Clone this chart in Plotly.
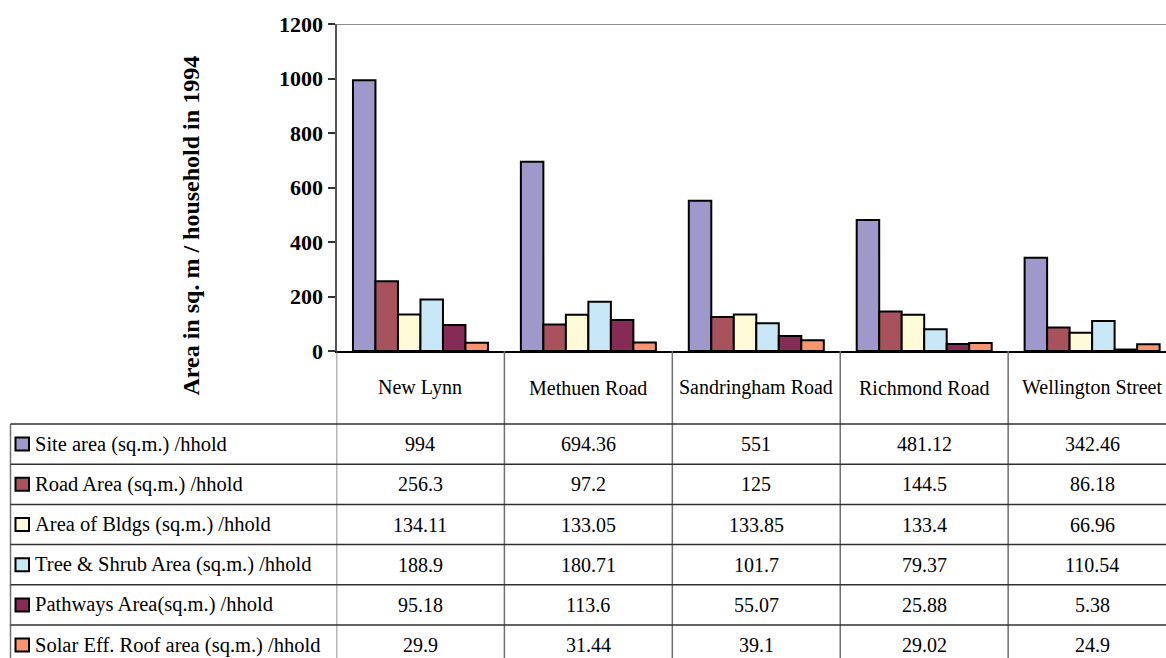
import plotly.graph_objects as go

# ---- data -------------------------------------------------------------
categories = ["New Lynn", "Methuen Road", "Sandringham Road", "Richmond Road", "Wellington Street"]

series_names = [
    "Site area (sq.m.) /hhold",
    "Road Area (sq.m.) /hhold",
    "Area of Bldgs (sq.m.) /hhold",
    "Tree & Shrub Area (sq.m.) /hhold",
    "Pathways Area(sq.m.) /hhold",
    "Solar Eff. Roof area (sq.m.) /hhold",
]

site_area = [994, 694.36, 551, 481.12, 342.46]
road_area = [256.3, 97.2, 125, 144.5, 86.18]
bldg_area = [134.11, 133.05, 133.85, 133.4, 66.96]
tree_shrub_area = [188.9, 180.71, 101.7, 79.37, 110.54]
pathways_area = [95.18, 113.6, 55.07, 25.88, 5.38]
solar_roof_area = [29.9, 31.44, 39.1, 29.02, 24.9]

series_values = [site_area, road_area, bldg_area, tree_shrub_area, pathways_area, solar_roof_area]
series_colors = ["#9F98CA", "#A8525E", "#FFFBD8", "#C8E8F8", "#852B55", "#F6956F"]

y_ticks = [0, 200, 400, 600, 800, 1000, 1200]
y_title = "Area in sq. m / household in 1994"

# ---- layout geometry (pixels) ----------------------------------------
W, H = 1166, 658
PLOT_LEFT = 336.5
PLOT_TOP = 24
PLOT_BOTTOM = 351
HEADER_BOTTOM = 424
ROW_H = 40.2
TABLE_LEFT = 10.5
SERIF = "Liberation Serif"


def fx(p):
    return p / W


def fy(p):
    return 1 - p / H


fig = go.Figure()
for name, vals, col in zip(series_names, series_values, series_colors):
    fig.add_trace(go.Bar(
        x=categories, y=vals, name=name,
        marker=dict(color=col, line=dict(color="#000000", width=2)),
        showlegend=False,
    ))

shapes = []
annotations = []

# top border of the plot area
shapes.append(dict(type="line", xref="paper", yref="y", x0=fx(PLOT_LEFT), x1=1,
                   y0=y_ticks[-1], y1=y_ticks[-1], line=dict(color="#8a8a8a", width=2)))

# table column lines (category boundaries, from the baseline down)
for i in range(len(categories) + 1):
    shapes.append(dict(type="line", xref="x", yref="paper", x0=i - 0.5, x1=i - 0.5,
                       y0=0, y1=fy(PLOT_BOTTOM), line=dict(color="#707070", width=1.5)))

# left edge of the series rows
shapes.append(dict(type="line", xref="paper", yref="paper", x0=fx(TABLE_LEFT), x1=fx(TABLE_LEFT),
                   y0=0, y1=fy(HEADER_BOTTOM), line=dict(color="#707070", width=1.5)))

# table row lines
for r in range(len(series_names)):
    yp = HEADER_BOTTOM + r * ROW_H
    shapes.append(dict(type="line", xref="paper", yref="paper", x0=fx(TABLE_LEFT), x1=1,
                       y0=fy(yp), y1=fy(yp), line=dict(color="#303030", width=1.5)))

# header row: category names
for c in categories:
    annotations.append(dict(xref="x", yref="paper", x=c, y=fy((PLOT_BOTTOM + HEADER_BOTTOM) / 2),
                            text=c, showarrow=False, xanchor="center", yanchor="middle",
                            font=dict(family=SERIF, size=20, color="#000000")))

# series rows: key, name, values
for r, (name, vals, col) in enumerate(zip(series_names, series_values, series_colors)):
    yc = HEADER_BOTTOM + r * ROW_H + ROW_H / 2
    shapes.append(dict(type="rect", xref="paper", yref="paper",
                       x0=fx(15.5), x1=fx(29), y0=fy(yc + 6.5), y1=fy(yc - 6.5),
                       fillcolor=col, line=dict(color="#000000", width=2)))
    annotations.append(dict(xref="paper", yref="paper", x=fx(33), y=fy(yc), text=name,
                            showarrow=False, xanchor="left", yanchor="middle",
                            font=dict(family=SERIF, size=20.5, color="#000000")))
    for c, v in zip(categories, vals):
        annotations.append(dict(xref="x", yref="paper", x=c, y=fy(yc), text=f"{v:g}",
                                showarrow=False, xanchor="center", yanchor="middle",
                                font=dict(family=SERIF, size=20, color="#000000")))

# vertical axis title
annotations.append(dict(xref="paper", yref="paper", x=fx(190), y=fy(225.5), text=y_title,
                        textangle=-90, showarrow=False, xanchor="center", yanchor="middle",
                        font=dict(family=SERIF, size=24, color="#000000", weight="bold")))

fig.update_layout(
    width=W, height=H,
    margin=dict(l=0, r=0, t=0, b=0, pad=0, autoexpand=False),
    paper_bgcolor="#ffffff", plot_bgcolor="#ffffff",
    barmode="group", bargap=0.196, bargroupgap=0,
    shapes=shapes, annotations=annotations,
    xaxis=dict(domain=[fx(PLOT_LEFT), 1], range=[-0.5, 4.44], showticklabels=False,
               automargin=False,
               showgrid=False, zeroline=False, showline=True, linecolor="#000000", linewidth=2,
               ticks=""),
    yaxis=dict(domain=[fy(PLOT_BOTTOM), fy(PLOT_TOP)], range=[0, 1200], tickvals=y_ticks,
               automargin=False,
               showgrid=False, zeroline=False, showline=True, linecolor="#555555", linewidth=2,
               ticks="outside", ticklen=7, tickwidth=1.5, tickcolor="#333333",
               tickfont=dict(family=SERIF, size=22, color="#000000", weight="bold")),
)

fig.write_html("out.html")
